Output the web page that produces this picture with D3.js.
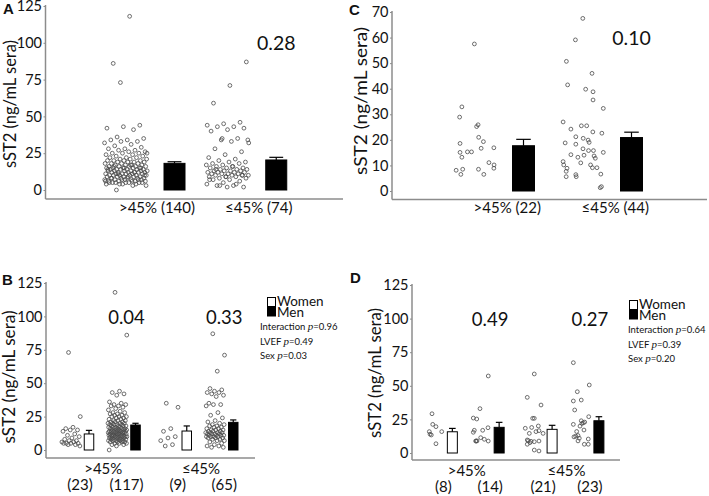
<!DOCTYPE html>
<html><head><meta charset="utf-8">
<script src="https://cdn.jsdelivr.net/npm/d3@7"></script>
<style>
body{margin:0;background:#fff}
svg{display:block}
text{font-family:Lato,"Open Sans",sans-serif;fill:#111}
</style>
</head><body>
<svg id="chart" width="709" height="496"></svg>
<script>
// ---------------- DATA ----------------
const lvefGroups = [">45%", "≤45%"];
const sexGroups = ["Women", "Men"];
const yTicks125 = [0, 25, 50, 75, 100, 125];
const yTicks70 = [0, 10, 20, 30, 40, 50, 60, 70];
const yLabel = "sST2 (ng/mL sera)";

// Panels A & B (same patients, split by sex in B)
const womenPreserved = [73, 25, 17, 16, 15, 15, 14, 12, 11, 10, 9, 8, 7, 7, 6, 6, 5, 5, 5, 5, 4, 4, 3];
const menPreserved = [118, 86, 44, 43, 42, 41, 36, 35, 34, 34, 33, 33, 32, 31, 30, 29,
  28, 28, 27, 27, 26, 26, 25, 25, 25, 24, 24, 23, 23, 22, 22, 22, 21, 21, 21, 20,
  20, 20, 20, 19, 19, 19, 19, 18, 18, 18, 18, 17, 17, 17, 17, 16, 16, 16, 16, 16,
  15, 15, 15, 15, 15, 14, 14, 14, 14, 14, 14, 13, 13, 13, 13, 13, 13, 12, 12, 12,
  12, 12, 12, 11, 11, 11, 11, 11, 11, 10, 10, 10, 10, 10, 10, 9, 9, 9, 9, 9,
  8, 8, 8, 8, 8, 7, 7, 7, 7, 7, 6, 6, 6, 6, 5, 5, 5, 4, 4, 3, 0];
const womenReduced = [35, 32, 16, 14, 10, 9, 7, 4, 3];
const menReduced = [87, 71, 59, 46, 45, 44, 43, 43, 42, 41, 40, 35, 34, 34, 33, 28, 26, 24, 22, 21,
  20, 19, 19, 18, 18, 17, 17, 16, 16, 15, 15, 15, 14, 14, 14, 13, 13, 13, 13, 12,
  12, 12, 12, 11, 11, 11, 11, 10, 10, 10, 10, 9, 9, 9, 8, 8, 7, 7, 6, 5, 4, 3, 3, 2, 2];
const countsA = [140, 74];
const meanA = [18.1, 20.4];
const semA = [1.1, 1.8];
const pA = ["0.28"];
const countsB = [23, 117, 9, 65];
const meanB = [12.0, 18.7, 14.2, 20.7];
const semB = [2.7, 1.3, 3.8, 1.8];
const pB = ["0.04", "0.33"];
const statsB = [["Interaction", "0.96"], ["LVEF", "0.49"], ["Sex", "0.03"]];

// Panel C
const cPreserved = [57.5, 32.9, 28.9, 25.9, 25.2, 21.0, 18.6, 19.3, 16.7, 16.9, 15.1, 15.3, 15.3, 13.2, 11.1, 10.2, 8.9, 8.1, 8.5, 8.5, 6.5, 6.5];
const cPreservedJit = [-0.03, -0.64, -0.75, 0.15, 0.08, 0.18, -0.73, 0.41, 0.3, 0.92, -0.73, -0.37, -0.17, -0.64, 0.68, 0.93, 0.92, -0.92, -0.6, 0.17, -0.69, 0.43];
const cReduced = [67.5, 59.1, 50.7, 46.0, 41.5, 39.8, 38.8, 35.6, 32.3, 27.0, 24.2, 25.5, 25.5, 23.1, 22.6, 21.2, 20.6, 19.9, 19.0, 18.8, 18.3, 16.5,
  15.8, 15.8, 15.1, 14.2, 14.0, 13.7, 13.2, 12.8, 11.0, 11.5, 10.2, 10.2, 9.1, 9.1, 8.9, 7.7, 6.4, 5.6, 5.6, 6.6, 1.3, 1.7];
const cReducedJit = [-0.01, -0.37, -0.81, 0.44, -0.75, 0.13, 0.49, 0.49, 0.99, -0.97, -0.59, -0.08, 0.18, 0.48, 0.92, -0.35, 0.01, 0.25, 0.3, -0.87, -0.35, 0,
  0.27, 0.51, 0.99, -0.59, 0.05, 0.54, -0.25, 0.6, -0.11, -0.97, -0.94, 0.37, 0.46, 0.68, -0.78, -0.82, -0.35, -0.33, -0.82, 0.87, 0.84, 0.9];
const countsC = [22, 44];
const meanC = [17.7, 20.9];
const semC = [2.5, 2.1];
const pC = ["0.10"];

// Panel D
const dWomenPreserved = [29.2, 21.3, 19.6, 15.9, 15.9, 13.4, 6.9, 14];
const dWomenPreservedJit = [-0.26, -0.18, 0.18, -0.56, 0.82, -0.34, 0.18, -0.48];
const dMenPreserved = [57.3, 33, 26, 25.3, 16.9, 18.8, 16.9, 15.4, 11.4, 10.2, 8.9, 8.9, 8.9, 9];
const dMenPreservedJit = [0.79, -0.13, -0.87, -0.49, 0.17, 0.76, -0.76, -0.87, -0.05, 0.35, 0.79, -0.61, -0.54, -0.46];
const dWomenReduced = [58.8, 41.4, 35.7, 25.8, 25.8, 18.4, 19, 20.1, 15.9, 16.6, 14.6, 14.6, 9.7, 9.2, 8.7, 8.4, 8.9, 6.5, 7.7, 2.2, 1.5];
const dWomenReducedJit = [0.02, -0.76, 0.77, -0.16, 0.02, -0.98, -0.27, 0.47, 0.21, 0.54, -0.53, 1.0, -0.76, -0.64, -0.34, 0.02, 0.54, -0.76, -0.46, 0.02, 0.54];
const dMenReduced = [67.2, 50.6, 45.6, 39.4, 38.7, 32, 27, 24, 23, 22.5, 22, 21.3, 20, 17.1, 16, 13, 12.5, 12, 11, 10.4, 9, 6.5, 6.5];
const dMenReducedJit = [-0.84, 0.93, -0.4, 0.04, -0.84, -0.69, 0.87, 0.04, 0.42, 0.27, 0.12, -0.84, -0.1, 0.34, -0.47, -0.32, -0.58, -0.77, -0.18, 0.82, -0.32, 0.38, 0.82];
const countsD = [8, 14, 21, 23];
const meanD = [15.8, 19.1, 17.6, 24.0];
const semD = [2.5, 3.7, 3.0, 3.0];
const pD = ["0.49", "0.27"];
const statsD = [["Interaction", "0.64"], ["LVEF", "0.39"], ["Sex", "0.20"]];

// ---------------- DRAWING ----------------
const svg = d3.select("#chart");
const AXIS = "#8c8c8c";
const goldenJitter = n => d3.range(n).map(i => ((i * 0.6180339887 + 0.37) % 1) * 2 - 1);

function panel(o) {
  const g = svg.append("g");
  const y = d3.scaleLinear().domain([0, o.yMax]).range([o.y0, o.yTop]);

  g.append("line").attr("x1", o.axX).attr("x2", o.axX).attr("y1", o.yTop - 1).attr("y2", o.axY)
    .attr("stroke", AXIS).attr("stroke-width", 1.5);
  g.append("line").attr("x1", o.axX).attr("x2", o.axR).attr("y1", o.axY).attr("y2", o.axY)
    .attr("stroke", AXIS).attr("stroke-width", 1.5);
  const ya = g.append("g").attr("transform", `translate(${o.axX},0)`)
    .call(d3.axisLeft(y).tickValues(o.ticks).tickSize(2).tickPadding(1.5));
  ya.select(".domain").remove();
  ya.selectAll("line").attr("stroke", AXIS);
  ya.selectAll("text").attr("font-size", 14.5).attr("font-family", "Lato").attr("fill", "#111");

  g.append("text").attr("transform", `translate(${o.yl[0]},${o.yl[1]}) rotate(-90)`)
    .attr("text-anchor", "middle").attr("font-size", 16.5)
    .attr("textLength", o.yl[2]).attr("lengthAdjust", "spacingAndGlyphs").text(yLabel);

  g.append("text").attr("x", o.letter[1]).attr("y", o.letter[2]).attr("font-size", 15)
    .attr("font-weight", "bold").style("font-family", "'Liberation Sans',Arial,sans-serif").text(o.letter[0]);

  const jx = d3.scaleLinear().domain([-1, 1]);
  o.groups.forEach(gr => {
    jx.range([gr.sx - gr.hw, gr.sx + gr.hw]);
    const pts = gr.vals.map((v, i) => [gr.jit[i], v]);
    g.append("g").selectAll("circle").data(pts).join("circle")
      .attr("cx", d => jx(d[0])).attr("cy", d => y(d[1])).attr("r", 1.9)
      .attr("fill", "none").attr("stroke", "#4a4a4a").attr("stroke-width", 0.8);
    g.append("rect").attr("x", gr.bx - gr.bw / 2).attr("y", y(gr.mean))
      .attr("width", gr.bw).attr("height", y(0) - y(gr.mean))
      .attr("fill", gr.fill).attr("stroke", "#000").attr("stroke-width", 1);
    g.append("line").attr("x1", gr.bx).attr("x2", gr.bx).attr("y1", y(gr.mean)).attr("y2", y(gr.mean + gr.sem))
      .attr("stroke", "#000").attr("stroke-width", 1.2);
    g.append("line").attr("x1", gr.bx - gr.bw * 0.33).attr("x2", gr.bx + gr.bw * 0.33)
      .attr("y1", y(gr.mean + gr.sem)).attr("y2", y(gr.mean + gr.sem))
      .attr("stroke", "#000").attr("stroke-width", 1.2);
  });
  return { g, y };
}

// ---- Panel A ----
(function () {
  const gx = d3.scalePoint().domain(lvefGroups).range([150, 251.75]);
  const vals = [womenPreserved.concat(menPreserved), womenReduced.concat(menReduced)];
  const groups = lvefGroups.map((k, i) => ({
    sx: gx(k) - 24, hw: 21.5, vals: vals[i], jit: goldenJitter(vals[i].length),
    bx: gx(k) + 24.5, bw: 21, mean: meanA[i], sem: semA[i], fill: "#000"
  }));
  const { g } = panel({ yMax: 125, y0: 190, yTop: 6, ticks: yTicks125, axX: 45.5, axR: 343, axY: 199,
    yl: [16, 104, 128], letter: ["A", 3, 14], groups });
  lvefGroups.forEach((k, i) => g.append("text").attr("x", gx(k) + 7).attr("y", 213)
    .attr("text-anchor", "middle").attr("font-size", 15).text(`${k} (${countsA[i]})`));
  g.append("text").attr("x", gx(lvefGroups[1]) + 24.5).attr("y", 50).attr("text-anchor", "middle")
    .attr("font-size", 19.5).text(pA[0]);
})();

// ---- Panel C ----
(function () {
  const gx = d3.scalePoint().domain(lvefGroups).range([499.25, 607.25]);
  const vals = [cPreserved, cReduced], jits = [cPreservedJit, cReducedJit];
  const groups = lvefGroups.map((k, i) => ({
    sx: gx(k) - 24.25, hw: 20.5, vals: vals[i], jit: jits[i],
    bx: gx(k) + 24.25, bw: 22, mean: meanC[i], sem: semC[i], fill: "#000"
  }));
  const { g } = panel({ yMax: 70, y0: 191, yTop: 12, ticks: yTicks70, axX: 392, axR: 707, axY: 199.5,
    yl: [367, 101, 148], letter: ["C", 349, 15], groups });
  lvefGroups.forEach((k, i) => g.append("text").attr("x", gx(k) + 8).attr("y", 213)
    .attr("text-anchor", "middle").attr("font-size", 15).text(`${k} (${countsC[i]})`));
  g.append("text").attr("x", gx(lvefGroups[1]) + 24.25).attr("y", 45).attr("text-anchor", "middle")
    .attr("font-size", 19.5).text(pC[0]);
})();

// ---- Panels B and D ----
function sexPanel(o) {
  const gx = d3.scalePoint().domain(lvefGroups).range(o.lvefRange);
  const sx = d3.scalePoint().domain(sexGroups).range([-o.sexOff, o.sexOff]);
  const groups = [];
  const centers = [];
  lvefGroups.forEach((k, i) => sexGroups.forEach((s, j) => {
    const idx = i * 2 + j;
    const c = gx(k) + sx(s);
    centers.push(c);
    groups.push({ sx: c - 9, hw: o.hw, vals: o.vals[idx], jit: o.jits[idx],
      bx: c + 9, bw: o.bw, mean: o.means[idx], sem: o.sems[idx], fill: s === "Men" ? "#000" : "#fff" });
  }));
  const { g } = panel({ yMax: 125, y0: o.y0, yTop: o.yTop, ticks: yTicks125, axX: o.axX, axR: o.axR, axY: o.axY,
    yl: o.yl, letter: o.letter, groups });
  lvefGroups.forEach(k => g.append("text").attr("x", gx(k)).attr("y", o.axY + 16)
    .attr("text-anchor", "middle").attr("font-size", 15).text(k));
  centers.forEach((c, i) => g.append("text").attr("x", c).attr("y", o.axY + 32)
    .attr("text-anchor", "middle").attr("font-size", 15).text(`(${o.counts[i]})`));
  lvefGroups.forEach((k, i) => g.append("text").attr("x", gx(k) + sx("Men")).attr("y", o.pY)
    .attr("text-anchor", "middle").attr("font-size", 18.5).text(o.p[i]));
  const lg = g.append("g").attr("transform", `translate(${o.leg[0]},${o.leg[1]})`);
  sexGroups.forEach((s, j) => {
    lg.append("rect").attr("x", 0.5).attr("y", j * 9.5 + 0.5).attr("width", 8).attr("height", 9)
      .attr("fill", s === "Men" ? "#000" : "#fff").attr("stroke", "#000").attr("stroke-width", 1);
    lg.append("text").attr("x", 10).attr("y", j * 11 + 9).attr("font-size", 13.5).text(s);
  });
  o.stats.forEach((st, k) => {
    const t = lg.append("text").attr("x", o.statX).attr("y", 33 + k * 14.5).attr("font-size", 9.5);
    t.append("tspan").text(st[0] + " ");
    t.append("tspan").attr("font-style", "italic").style("font-family", "'Liberation Serif',serif")
      .attr("font-size", 11).text("p");
    t.append("tspan").text("=" + st[1]);
  });
}

sexPanel({
  lvefRange: [103.25, 201], sexOff: 23.25, hw: 9.5, bw: 9.5,
  vals: [womenPreserved, menPreserved, womenReduced, menReduced],
  jits: [womenPreserved, menPreserved, womenReduced, menReduced].map(a => goldenJitter(a.length)),
  means: meanB, sems: semB, counts: countsB, p: pB, stats: statsB,
  y0: 450, yTop: 283, axX: 46, axR: 255, axY: 458, yl: [15, 377, 133], letter: ["B", 2, 285],
  pY: 324, leg: [267, 297], statX: -7
});

sexPanel({
  lvefRange: [466.75, 566.5], sexOff: 23.4, hw: 9, bw: 10,
  vals: [dWomenPreserved, dMenPreserved, dWomenReduced, dMenReduced],
  jits: [dWomenPreservedJit, dMenPreservedJit, dWomenReducedJit, dMenReducedJit],
  means: meanD, sems: semD, counts: countsD, p: pD, stats: statsD,
  y0: 453, yTop: 285, axX: 412, axR: 620, axY: 460, yl: [381, 373, 130], letter: ["D", 350, 283],
  pY: 326, leg: [629, 300], statX: -1
});
</script>
</body></html>
